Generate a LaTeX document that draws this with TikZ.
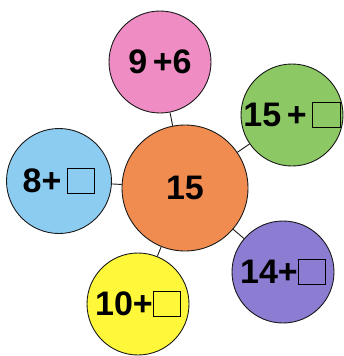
\documentclass[tikz,border=0pt]{standalone}
\usepackage{fontspec}
\setmainfont{Liberation Sans}
\usepackage{xcolor}
\usetikzlibrary{positioning}
\definecolor{ink}{HTML}{1A1A1A}
\definecolor{hubfill}{HTML}{F08C50}
\definecolor{pinkfill}{HTML}{F08CC4}
\definecolor{greenfill}{HTML}{8CC864}
\definecolor{bluefill}{HTML}{8CCCF0}
\definecolor{purplefill}{HTML}{8C7CD2}
\definecolor{yellowfill}{HTML}{FFF83A}
\newcommand{\blank}{{\setlength{\fboxsep}{0pt}\setlength{\fboxrule}{0.8pt}\fbox{\rule{0pt}{0.7em}\hspace{0.78em}}}}

\begin{document}
\begin{tikzpicture}[
  x=1pt, y=1pt,
  bubble/.style={circle, draw=ink, line width=0.9pt, inner sep=0pt, minimum size=102pt, font=\fontsize{34}{38}\selectfont\bfseries},
  hub/.style={bubble, minimum size=126pt},
  spoke/.style={draw=ink, line width=0.9pt}
]
  \useasboundingbox (0,0) rectangle (344,-356);

  \node[hub, fill=hubfill] (hub) at (185,-188) {15};

  \node[bubble, fill=pinkfill] (pink) at (160,-62) {9\,+6};
  \node[bubble, fill=greenfill] (green) at (292,-115) {15\,+\,\blank};
  \node[bubble, fill=bluefill, minimum size=105pt] (blue) at (59,-181) {8+\,\blank};
  \node[bubble, fill=purplefill] (purple) at (283,-272) {14+\blank};
  \node[bubble, fill=yellowfill] (yellow) at (138,-304) {10+\blank};

  % spokes to the hub
  \foreach \b in {pink, green, blue, purple, yellow}
    \draw[spoke] (hub) -- (\b);
\end{tikzpicture}
\end{document}
